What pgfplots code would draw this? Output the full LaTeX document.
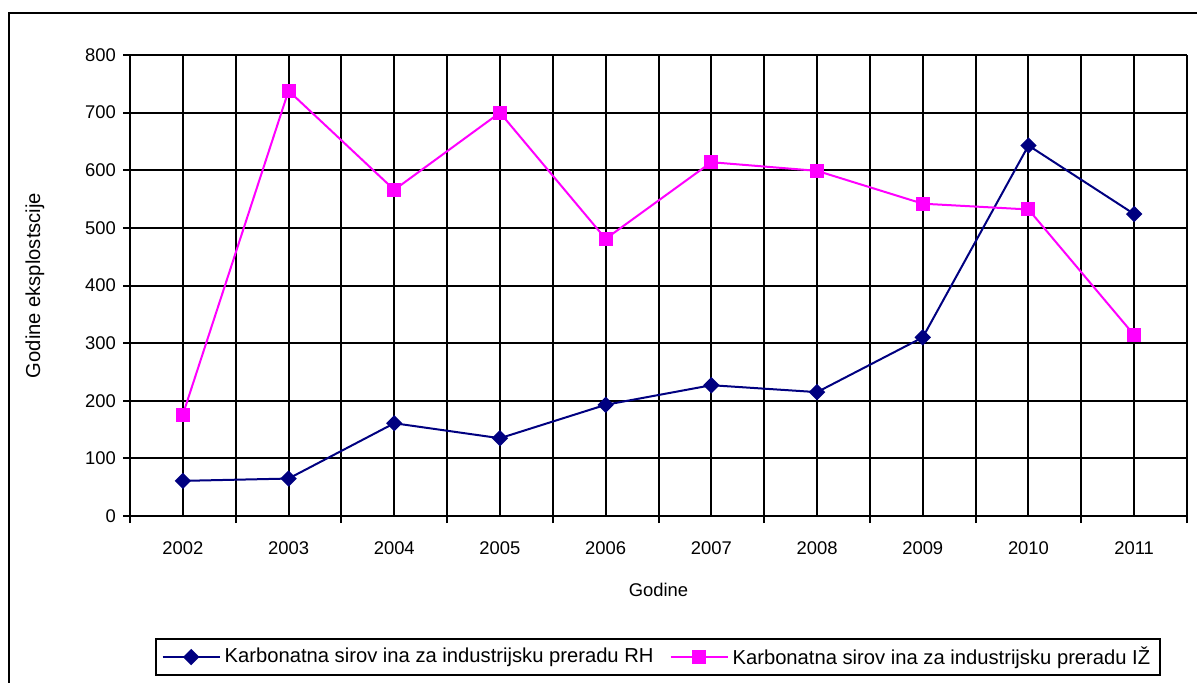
\documentclass[border=0pt]{standalone}
\usepackage{fontspec}
\setmainfont{Liberation Sans}
\usepackage{pgfplots}
\pgfplotsset{compat=1.18}
\definecolor{rh}{RGB}{0,0,128}
\definecolor{iz}{RGB}{255,0,255}
\newcommand{\cf}{\fontsize{9.2pt}{11pt}\selectfont}
\newcommand{\lf}{\fontsize{10.1pt}{12pt}\selectfont}
\begin{document}
\begin{tikzpicture}
\useasboundingbox (0,0) rectangle (598.5pt,-341pt);
\draw[line width=1.2pt] (4.5pt,-6.5pt) rectangle (602pt,-346pt);
\begin{axis}[
  at={(65pt,-258pt)}, anchor=south west,
  scale only axis, width=528.5pt, height=230.5pt,
  xmin=-0.5, xmax=9.5, ymin=0, ymax=800,
  axis x line*=bottom, axis y line*=left,
  axis line style={black, line width=1pt},
  xtick={-0.5,0.5,...,9.5},
  xticklabels={2002,2003,2004,2005,2006,2007,2008,2009,2010,2011,{}},
  xticklabel style={xshift=26.425pt, yshift=-6pt, font=\cf},
  minor xtick={0,...,9}, minor tick length=0pt,
  ytick={0,100,...,800},
  yticklabel style={font=\cf},
  grid=both,
  major grid style={black, line width=1pt},
  minor grid style={black, line width=1pt},
  tick align=outside, major tick length=3.5pt,
  tick style={black, line width=1pt},
  /pgf/number format/assume math mode=true,
  xlabel={Godine}, xlabel style={font=\cf, at={(axis description cs:0.5,-0.1605)}, anchor=center},
  ylabel={Godine\ eksplostscije}, ylabel style={font=\lf, at={(axis description cs:-0.0899,0.5)}, anchor=center, rotate=0},
  legend style={at={(axis description cs:0.4995,-0.306)}, anchor=center, draw=black, line width=1pt, font=\lf,
    inner xsep=3pt,
    legend columns=2, /tikz/every even column/.append style={column sep=6pt}},
  legend image code/.code={\draw[mark repeat=2,mark phase=2] plot coordinates {(0pt,0pt)(14.25pt,0pt)(28.5pt,0pt)};},
]
\addplot[color=rh, line width=1pt, mark=square*, mark size=2.4pt, mark options={rotate=45, fill=rh, solid}]
  coordinates {(0,61) (1,65) (2,161) (3,135) (4,193) (5,227) (6,215) (7,310) (8,643) (9,524)};
\addlegendentry{Karbonatna sirov ina za industrijsku preradu RH}
\addplot[color=iz, line width=1pt, mark=square*, mark size=3pt, mark options={fill=iz, solid}]
  coordinates {(0,176) (1,738) (2,566) (3,700) (4,481) (5,614) (6,599) (7,542) (8,532) (9,314)};
\addlegendentry{Karbonatna sirov ina za industrijsku preradu IŽ}
\end{axis}
\end{tikzpicture}
\end{document}
